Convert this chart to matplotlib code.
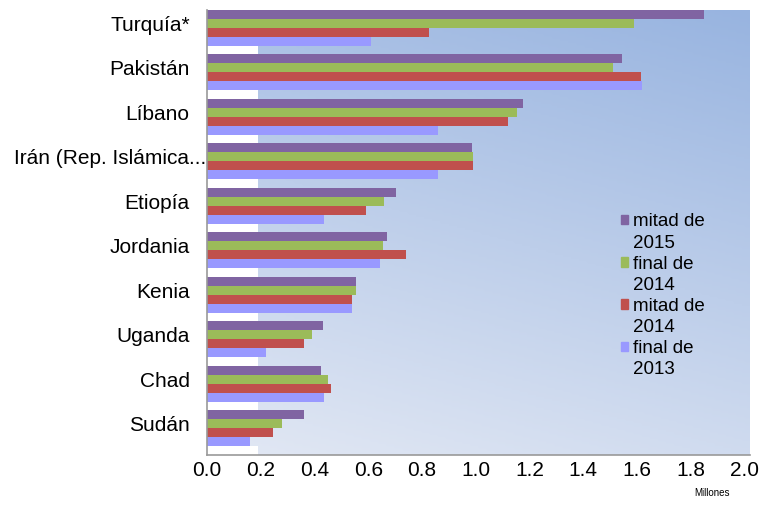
import numpy as np
import matplotlib
matplotlib.use("Agg")
import matplotlib.pyplot as plt
from matplotlib.patches import Patch
from matplotlib.transforms import ScaledTranslation

plt.rcParams['font.family'] = ['Liberation Sans', 'DejaVu Sans']

countries = ['Turquía*', 'Pakistán', 'Líbano', 'Irán (Rep. Islámica...', 'Etiopía',
             'Jordania', 'Kenia', 'Uganda', 'Chad', 'Sudán']
mitad_2015 = [1.85, 1.545, 1.175, 0.985, 0.705, 0.67, 0.555, 0.43, 0.425, 0.36]
final_2014 = [1.59, 1.51, 1.155, 0.99, 0.66, 0.655, 0.555, 0.39, 0.452, 0.28]
mitad_2014 = [0.825, 1.615, 1.12, 0.99, 0.59, 0.74, 0.54, 0.36, 0.46, 0.245]
final_2013 = [0.61, 1.62, 0.86, 0.86, 0.435, 0.645, 0.54, 0.22, 0.435, 0.16]
blank = [0.19] * 10

series = [mitad_2015, final_2014, mitad_2014, final_2013, blank]
labels = [('mitad de', '2015'), ('final de', '2014'), ('mitad de', '2014'), ('final de', '2013')]
colors = ['#8064a2', '#9bbb59', '#c0504d', '#9999ff', '#ffffff']

fig = plt.figure(figsize=(7.61, 5.07), dpi=100)
ax = fig.add_axes([0.272, 0.1026, 0.7135, 0.8777])

# gradient background
grad = np.linspace(0, 1, 200)[:, None] * 0.75 + np.linspace(0, 1, 200)[None, :] * 0.25
cmap = matplotlib.colors.LinearSegmentedColormap.from_list('bg', ['#e2e8f4', '#98b4e0'])
ax.imshow(grad[::-1], extent=[0, 2.02, 10, 0], aspect='auto', cmap=cmap, zorder=0)

n = len(countries)
base = np.arange(n)
for j, (vals, col) in enumerate(zip(series, colors)):
    ax.barh(base + (j + 0.5) / 5, vals, height=0.2, color=col, zorder=2)

ax.set_xlim(0, 2.02)
ax.set_ylim(10, 0)
ax.set_yticks(base + 0.3)
ax.set_yticklabels(countries, fontsize=15)
ax.set_xticks(np.arange(0, 2.01, 0.2))
ax.set_xticklabels([f'{v:.1f}' for v in np.arange(0, 2.01, 0.2)], fontsize=15)
ax.tick_params(length=0)
ax.tick_params(axis='x', pad=4)
ax.tick_params(axis='y', pad=12.5)
# the long label runs past the others, up to the axis
lbl = ax.get_yticklabels()[3]
lbl.set_transform(lbl.get_transform() + ScaledTranslation(0.17, 0, fig.dpi_scale_trans))
for s in ['top', 'right']:
    ax.spines[s].set_visible(False)
for s in ['left', 'bottom']:
    ax.spines[s].set_color('#999999')
    ax.spines[s].set_linewidth(1.2)

# legend: one row per text line, square only on the first line of each entry
handles = []
for c, (l1, l2) in zip(colors[:4], labels):
    handles.append(Patch(color=c, label=l1))
    handles.append(Patch(color='none', label=l2))
ax.legend(handles=handles, loc='upper left', bbox_to_anchor=(0.745, 0.564),
          frameon=False, fontsize=13.5, handlelength=0.4, handleheight=0.4,
          handletextpad=0.25, labelspacing=0.22, borderpad=0)

fig.text(0.935, 0.018, 'Millones', fontsize=7, ha='center', va='bottom')

fig.savefig('out.png', dpi=100)
